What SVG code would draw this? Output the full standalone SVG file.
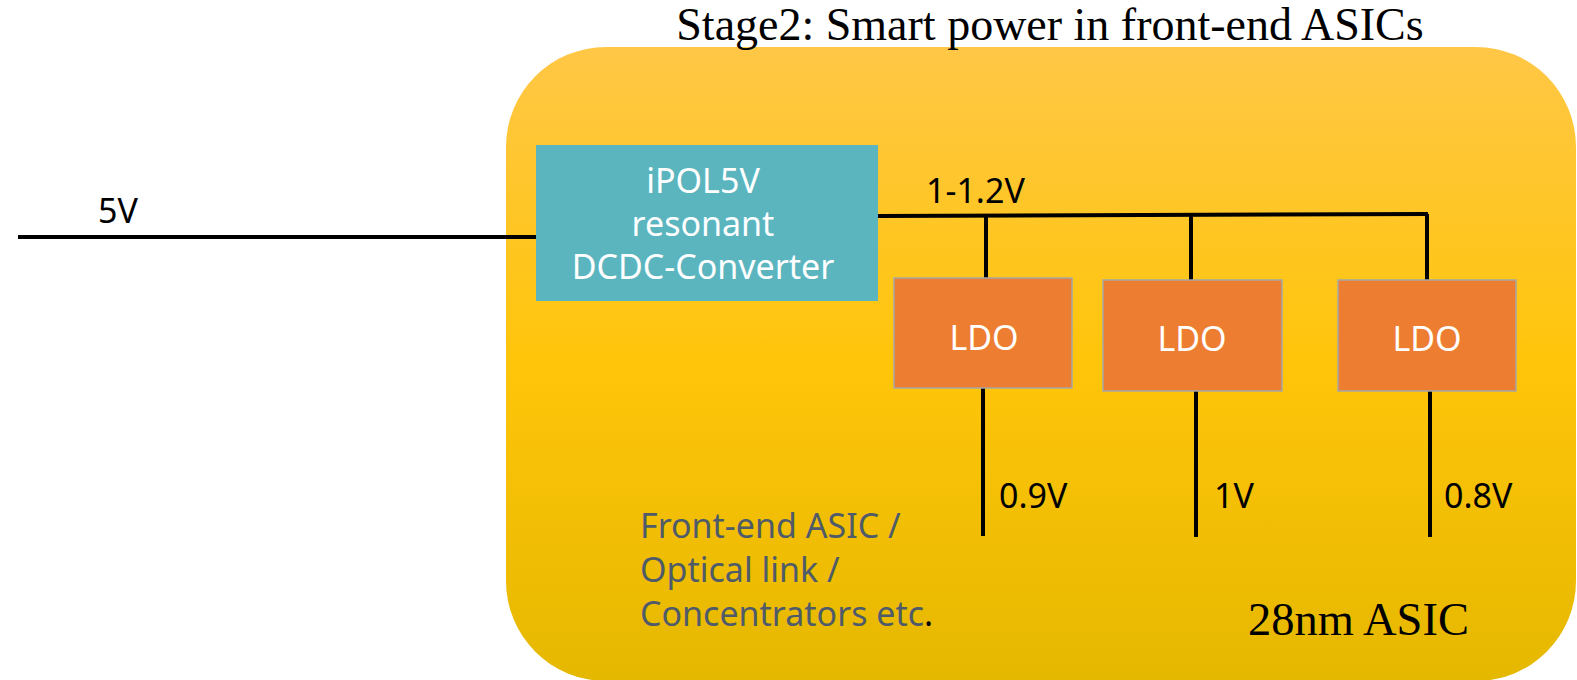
<svg xmlns="http://www.w3.org/2000/svg" width="1577" height="680" viewBox="0 0 1577 680">
<defs>
<linearGradient id="gold" x1="0" y1="0" x2="0" y2="1">
<stop offset="0" stop-color="#FFC746"/>
<stop offset="0.5" stop-color="#FFC50A"/>
<stop offset="1" stop-color="#E5B800"/>
</linearGradient>
<style>
.sans{font-family:"Noto Sans","Open Sans","DejaVu Sans",sans-serif;font-size:34px}
.serif{font-family:"Liberation Serif","Times New Roman",serif}
.wire{stroke:#000;stroke-width:4;fill:none}
.ldo{fill:#ED7D31;stroke:#A6A6A6;stroke-width:1.5}
.w{fill:#fff}
.k{fill:#000}
</style>
</defs>
<g id="asic">
<rect x="506" y="47" width="1070" height="634" rx="100" ry="100" fill="url(#gold)"/>
</g>
<text class="serif" x="1050" y="40" font-size="46" text-anchor="middle" fill="#000">Stage2: Smart power in front-end ASICs</text>
<g id="connectors">
<line class="wire" x1="18" y1="237" x2="536" y2="237"/>
<line class="wire" x1="878" y1="216" x2="1428" y2="214"/>
<line class="wire" x1="986" y1="216" x2="986" y2="278"/>
<line class="wire" x1="1191" y1="215" x2="1191" y2="280"/>
<line class="wire" x1="1427" y1="214" x2="1427" y2="280"/>
<line class="wire" x1="983" y1="388" x2="983" y2="536"/>
<line class="wire" x1="1196" y1="391" x2="1196" y2="537"/>
<line class="wire" x1="1430" y1="391" x2="1430" y2="537"/>
<text class="sans k" x="98" y="223">5V</text>
<text class="sans k" x="926" y="203">1-1.2V</text>
<text class="sans k" x="999" y="508">0.9V</text>
<text class="sans k" x="1214" y="508">1V</text>
<text class="sans k" x="1444" y="508">0.8V</text>
</g>
<g id="converter">
<rect x="536" y="145" width="342" height="156" fill="#5BB5BF"/>
<text class="sans w" text-anchor="middle"><tspan x="703" y="193">iPOL5V</tspan><tspan x="703" y="236">resonant</tspan><tspan x="703" y="279">DCDC-Converter</tspan></text>
</g>
<g id="ldo1">
<rect class="ldo" x="894" y="278" width="178" height="110"/>
<text class="sans w" x="984" y="350" text-anchor="middle">LDO</text>
</g>
<g id="ldo2">
<rect class="ldo" x="1103" y="280" width="179" height="111"/>
<text class="sans w" x="1192" y="351" text-anchor="middle">LDO</text>
</g>
<g id="ldo3">
<rect class="ldo" x="1338" y="280" width="178" height="111"/>
<text class="sans w" x="1427" y="351" text-anchor="middle">LDO</text>
</g>
<g id="label">
<text class="sans" fill="#4F5B69"><tspan x="640" y="538">Front-end ASIC /</tspan><tspan x="640" y="582">Optical link /</tspan><tspan x="640" y="626">Concentrators etc<tspan fill="#000">.</tspan></tspan></text>
<text class="serif" x="1248" y="635" font-size="46.5" fill="#000">28nm ASIC</text>
</g>
</svg>
